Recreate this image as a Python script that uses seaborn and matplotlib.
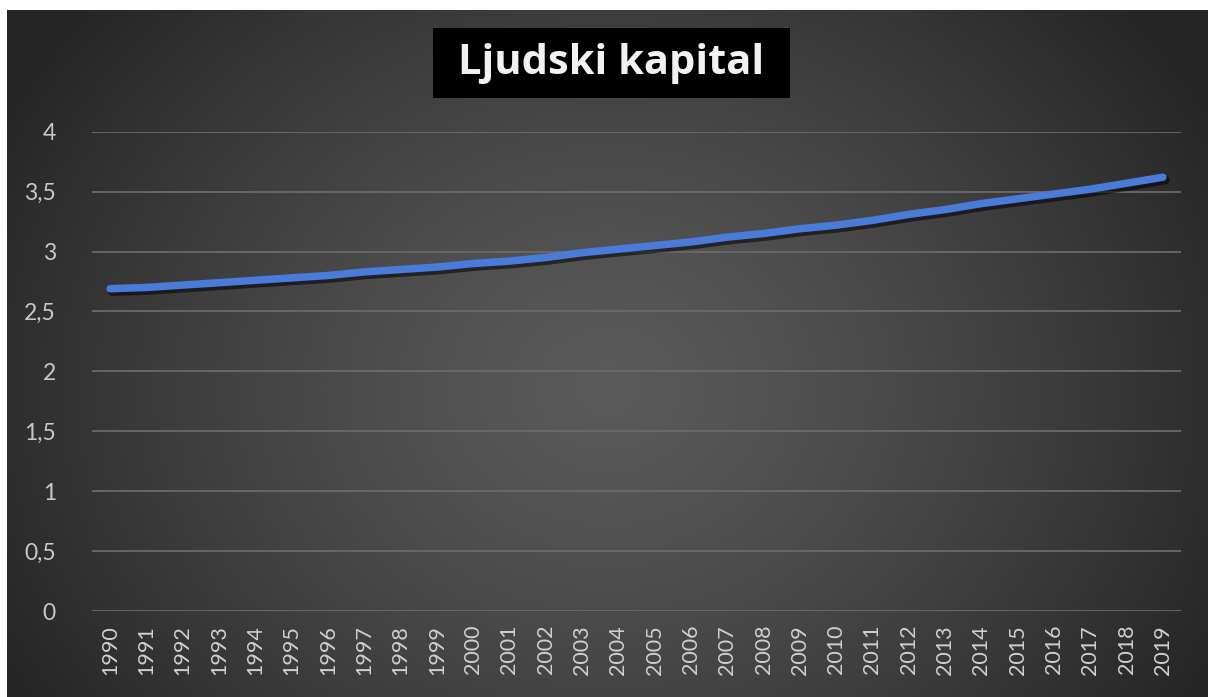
import numpy as np
import pandas as pd
import matplotlib
matplotlib.use("Agg")
import matplotlib.pyplot as plt
import matplotlib.patheffects as pe
from matplotlib.patches import Rectangle
import seaborn as sns

# ---- data ----
years = ["1990", "1991", "1992", "1993", "1994", "1995", "1996", "1997", "1998", "1999",
         "2000", "2001", "2002", "2003", "2004", "2005", "2006", "2007", "2008", "2009",
         "2010", "2011", "2012", "2013", "2014", "2015", "2016", "2017", "2018", "2019"]
values = [2.69, 2.70, 2.72, 2.74, 2.76, 2.78, 2.80, 2.83, 2.85, 2.87,
          2.90, 2.92, 2.95, 2.99, 3.02, 3.05, 3.08, 3.12, 3.15, 3.19,
          3.22, 3.26, 3.31, 3.35, 3.40, 3.44, 3.48, 3.52, 3.57, 3.62]
y_ticks = [0, 0.5, 1, 1.5, 2, 2.5, 3, 3.5, 4]
y_tick_labels = ["0", "0,5", "1", "1,5", "2", "2,5", "3", "3,5", "4"]
title = "Ljudski kapital"

df = pd.DataFrame({"Godina": years, "Vrijednost": values})

sns.set_theme(style="white")
plt.rcParams["font.family"] = ["Lato", "DejaVu Sans"]

W, H = 1208, 697
fig = plt.figure(figsize=(W / 100, H / 100), dpi=100, facecolor="white")

# background with radial gradient
bg = fig.add_axes([7 / W, 0, 1 - 7 / W, (H - 10) / H])
bg.set_axis_off()
ny, nx = 400, 700
yy, xx = np.mgrid[0:ny, 0:nx]
cx, cy = nx * 0.5, ny * 0.55
r = np.sqrt(((xx - cx) / (nx * 0.5)) ** 2 + ((yy - cy) / (ny * 0.75)) ** 2)
r = np.clip(r / 1.15, 0, 1)
c_in = np.array([0x5a, 0x5a, 0x5a]) / 255
c_out = np.array([0x25, 0x25, 0x25]) / 255
img = c_in[None, None, :] * (1 - r[..., None] ** 1.3) + c_out[None, None, :] * (r[..., None] ** 1.3)
bg.imshow(img, aspect="auto", extent=[0, 1, 0, 1], interpolation="bilinear")
bg.set_xlim(0, 1)
bg.set_ylim(0, 1)

# main axes
left, right = 92 / W, 1181 / W
bottom, top = (H - 611) / H, (H - 131.7) / H
ax = fig.add_axes([left, bottom, right - left, top - bottom])
ax.patch.set_alpha(0)

sns.lineplot(data=df, x="Godina", y="Vrijednost", ax=ax, color="#4a7bd9",
             linewidth=5.4, sort=False, solid_capstyle="round",
             path_effects=[pe.SimpleLineShadow(offset=(1.5, -2.0), shadow_color="black",
                                               alpha=0.55, linewidth=6.5),
                           pe.Normal()])

ax.set_xlim(-0.5, len(years) - 0.5)
ax.set_ylim(0, 4)
ax.set_yticks(y_ticks)
ax.set_yticklabels(y_tick_labels)
ax.set_xticks(range(len(years)))
ax.set_xticklabels(years, rotation=90)
ax.set_xlabel("")
ax.set_ylabel("")
for s in ax.spines.values():
    s.set_visible(False)
ax.grid(axis="y", color="#6a6a6a", linewidth=1.3)
ax.grid(axis="x", visible=False)
ax.set_axisbelow(True)
ax.tick_params(axis="y", length=0, pad=26, labelsize=16.5, labelcolor="#c8c8c8")
ax.tick_params(axis="x", length=0, pad=10, labelsize=15.5, labelcolor="#d0d0d0")

# title in black box
fig.add_artist(Rectangle((433 / W, (H - 98) / H), (790 - 433) / W, 70 / H,
                         transform=fig.transFigure, facecolor="black", edgecolor="none"))
fig.text((433 + 790) / 2 / W, (H - 64) / H, title, ha="center", va="center",
         fontsize=30, fontweight="bold", color="#f2f2f2",
         family=["Open Sans", "DejaVu Sans"])

fig.savefig("out.png", dpi=100, facecolor="white")
